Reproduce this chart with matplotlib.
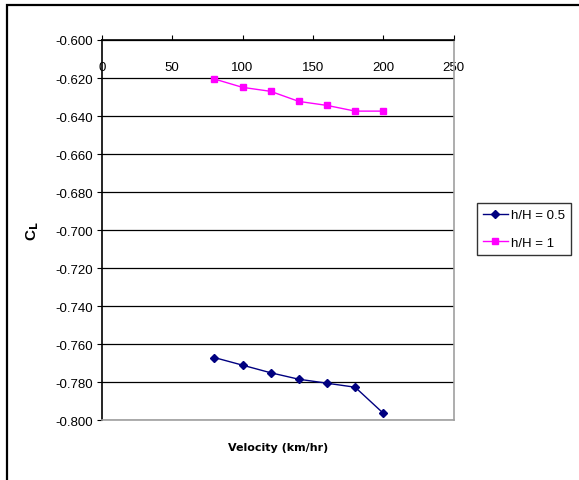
import numpy as np
import matplotlib.pyplot as plt
from matplotlib.patches import Rectangle

plt.rcParams['font.family'] = ['Liberation Sans', 'DejaVu Sans']
plt.rcParams['mathtext.fontset'] = 'custom'
plt.rcParams['mathtext.bf'] = 'DejaVu Sans:weight=bold'
plt.rcParams['mathtext.rm'] = 'Liberation Sans'

velocity = [80, 100, 120, 140, 160, 180, 200]
cl_half = [-0.767, -0.771, -0.775, -0.7784, -0.7805, -0.7826, -0.7963]
cl_full = [-0.6205, -0.6249, -0.6270, -0.6323, -0.6344, -0.6374, -0.6374]
x_ticks = [0, 50, 100, 150, 200, 250]
y_ticks = np.arange(-0.800, -0.5999, 0.020)

W, H = 579, 481
fig = plt.figure(figsize=(W / 100, H / 100), dpi=100)
ax = fig.add_axes([101.7 / W, 1 - 421.3 / H, 352 / W, 380.3 / H])

ax.plot(velocity, cl_half, color='#000080', lw=1, marker='D', ms=4.5,
        label='h/H = 0.5')
ax.plot(velocity, cl_full, color='#FF00FF', lw=1, marker='s', ms=4.5,
        label='h/H = 1')

ax.set_xlim(0, 250)
ax.set_ylim(-0.800, -0.600)
ax.set_xticks(x_ticks)
ax.set_yticks(y_ticks)
ax.set_yticklabels(['%.3f' % v for v in y_ticks])
ax.yaxis.grid(True, color='black', lw=0.9)
ax.set_axisbelow(True)

ax.tick_params(axis='x', top=True, labeltop=True, bottom=False,
               labelbottom=False, direction='out', length=3.5, pad=-27,
               labelsize=9.5, color='black')
ax.tick_params(axis='y', direction='out', length=3.5, labelsize=9.5, pad=3)

ax.spines['top'].set_color('black')
ax.spines['left'].set_color('black')
ax.spines['right'].set_color('#a0a0a0')
ax.spines['bottom'].set_color('#a0a0a0')
for s in ax.spines.values():
    s.set_linewidth(1.2)

ax.set_ylabel(r'C$_\mathbf{L}$', fontsize=11, fontweight='bold',
              rotation=90)
ax.yaxis.set_label_coords(-0.172, 0.5)
ax.set_xlabel('Velocity (km/hr)', family='DejaVu Sans', fontweight='bold',
              fontsize=8)
ax.xaxis.set_label_coords(0.5, -0.058)
ax.xaxis.label.set_va('top')

leg = ax.legend(loc='upper left', bbox_to_anchor=(477 / W, 1 - 204 / H),
                bbox_transform=fig.transFigure, fontsize=9.5, frameon=True,
                fancybox=False, edgecolor='black', borderaxespad=0,
                handlelength=1.9, handletextpad=0.2, borderpad=0.45,
                labelspacing=1.15)
leg.get_frame().set_linewidth(1)

fig.patches.append(Rectangle((7 / W, -0.1), 1.2, 1.1 - 6 / H,
                             transform=fig.transFigure, fill=False,
                             edgecolor='black', lw=1.6))

fig.savefig('out.png', dpi=100)
